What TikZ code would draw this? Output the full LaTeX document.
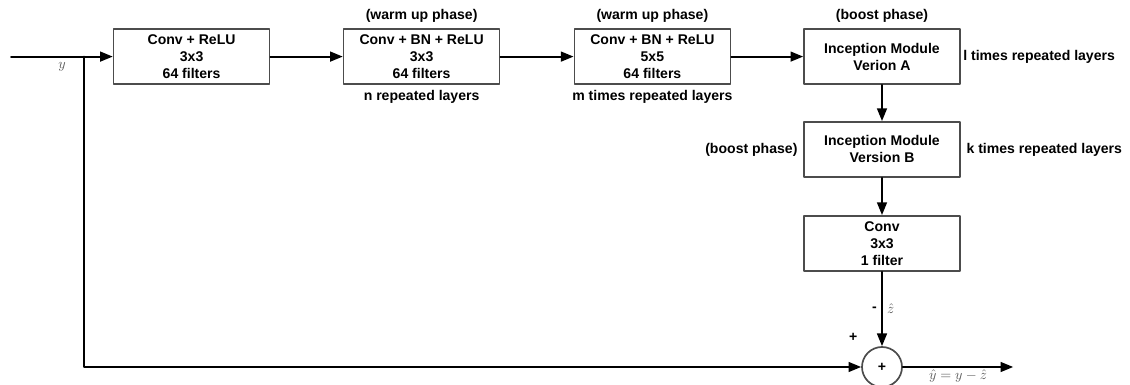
\documentclass[tikz,border=0pt]{standalone}
\usepackage{fontspec}
\setmainfont{Liberation Sans}
\usetikzlibrary{arrows.meta,positioning}

\begin{document}
\begin{tikzpicture}[>={Triangle[length=9pt,width=7pt]}, line cap=round, line join=round]

% ---------- styles (safe names) ----------
\tikzset{
  layerBox/.style ={draw=black!70, line width=1.2pt, fill=white, align=center,
                    minimum width=3.9cm, minimum height=1.375cm, inner sep=1pt,
                    font=\fontsize{10}{12}\selectfont\bfseries},
  noteText/.style ={inner sep=1pt, font=\fontsize{10}{12}\selectfont\bfseries},
  mathText/.style ={inner sep=1pt, text=black!65, font=\normalsize},
  sumCircle/.style={draw=black!70, line width=1.2pt, circle, minimum size=1cm,
                    inner sep=0pt, font=\fontsize{10}{12}\selectfont\bfseries},
  flowLine/.style ={draw, line width=1.3pt}
}

% fixed frame (reference margins)
\useasboundingbox (0,0) rectangle (28.25,9.625);

% ---------- main path: layers ----------
\node[layerBox] (convIn)  at (4.79,8.21)  {Conv + ReLU\\3x3\\64 filters};
\node[layerBox] (convBNa) at (10.54,8.21) {Conv + BN + ReLU\\3x3\\64 filters};
\node[layerBox] (convBNb) at (16.31,8.21) {Conv + BN + ReLU\\5x5\\64 filters};
\node[layerBox] (incA)    at (22.05,8.21) {Inception Module\\Verion A};
\node[layerBox] (incB)    at (22.05,5.89) {Inception Module\\Version B};
\node[layerBox] (convOut) at (22.05,3.54) {Conv\\3x3\\1 filter};

% residual sum
\node[sumCircle] (sumNode) at (22.05,0.45) {+};

% ---------- phase / repeat notes ----------
\node[noteText, above=0.1cm of convBNa] (warmA)  {(warm up phase)};
\node[noteText, below=0.1cm of convBNa] (repN)   {n repeated layers};
\node[noteText, above=0.1cm of convBNb] (warmB)  {(warm up phase)};
\node[noteText, below=0.1cm of convBNb] (repM)   {m times repeated layers};
\node[noteText, above=0.1cm of incA]    (boostA) {(boost phase)};
\node[noteText, right=0.02cm of incA]   (repL)   {l times repeated layers};
\node[noteText, left=0.1cm of incB]     (boostB) {(boost phase)};
\node[noteText, right=0.1cm of incB]    (repK)   {k times repeated layers};

% ---------- connectors ----------
\coordinate (inStart) at (0.275,8.21);
\coordinate (split)   at (2.1,8.21);
\coordinate (outEnd)  at (25.33,0.45);

\draw[flowLine]    (inStart) -- (split);
\draw[flowLine,->] (split) -- (convIn);
\draw[flowLine,->] (convIn) -- (convBNa);
\draw[flowLine,->] (convBNa) -- (convBNb);
\draw[flowLine,->] (convBNb) -- (incA);
\draw[flowLine,->] (incA) -- (incB);
\draw[flowLine,->] (incB) -- (convOut);
\draw[flowLine,->] (convOut) -- node[noteText, left=2pt] {-}
                                node[mathText, right=2pt] {$\hat{z}$} (sumNode);
\draw[flowLine,->] (split) |- (sumNode);
\draw[flowLine,->] (sumNode) -- node[mathText, below=0pt] {$\hat{y}=y-\hat{z}$} (outEnd);

% signal labels
\node[mathText] (inLabel) at (1.55,7.95) {$y$};
\node[noteText] (plusSign) at (21.33,1.2) {+};

\end{tikzpicture}
\end{document}
